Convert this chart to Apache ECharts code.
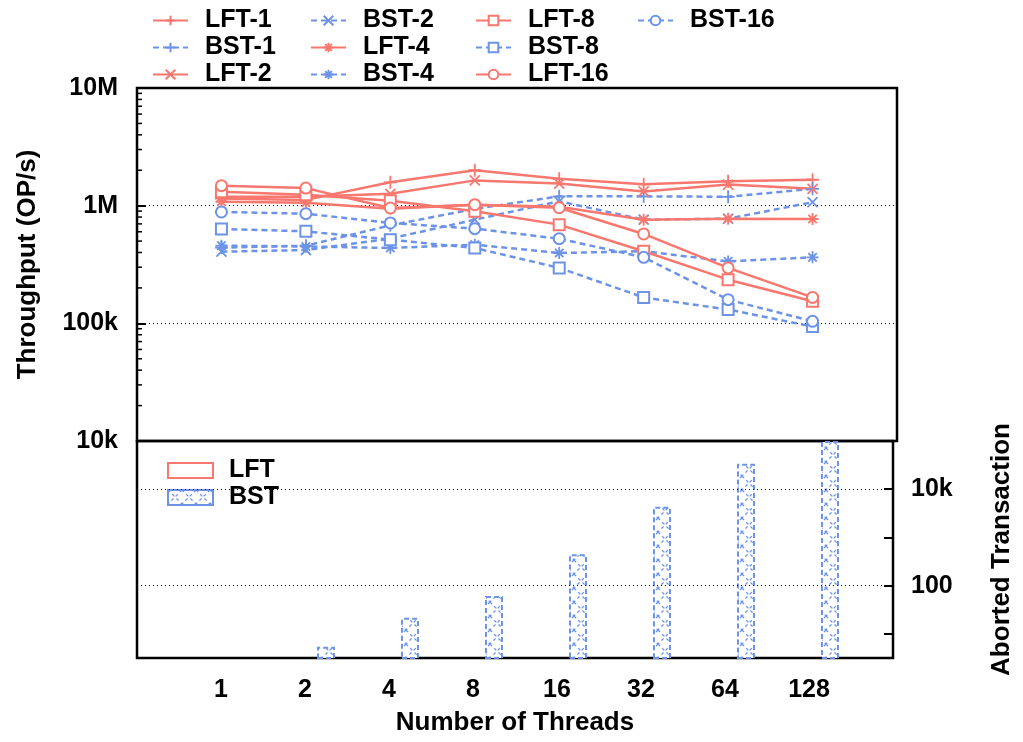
<!DOCTYPE html>
<html>
<head>
<meta charset="utf-8">
<script src="https://cdn.jsdelivr.net/npm/echarts@6/dist/echarts.min.js"></script>
<style>
  html, body { margin: 0; padding: 0; background: #fff; }
  #chart { width: 1023px; height: 742px; }
</style>
</head>
<body>
<div id="chart"></div>
<script>
const threads = [1, 2, 4, 8, 16, 32, 64, 128];

// throughput, OP/s
const lft1 = [1.15e6, 1.12e6, 1.58e6, 2.0e6, 1.69e6, 1.52e6, 1.61e6, 1.66e6];
const bst1 = [0.44e6, 0.457e6, 0.68e6, 0.94e6, 1.2e6, 1.2e6, 1.19e6, 1.39e6];
const lft2 = [1.19e6, 1.19e6, 1.26e6, 1.64e6, 1.54e6, 1.32e6, 1.51e6, 1.39e6];
const bst2 = [0.406e6, 0.42e6, 0.525e6, 0.76e6, 1.09e6, 0.76e6, 0.775e6, 1.07e6];
const lft4 = [1.08e6, 1.06e6, 0.943e6, 1.02e6, 0.98e6, 0.76e6, 0.775e6, 0.77e6];
const bst4 = [0.457e6, 0.45e6, 0.437e6, 0.466e6, 0.396e6, 0.41e6, 0.336e6, 0.364e6];
const lft8 = [1.31e6, 1.24e6, 1.10e6, 0.895e6, 0.69e6, 0.41e6, 0.235e6, 0.154e6];
const bst8 = [0.634e6, 0.605e6, 0.514e6, 0.437e6, 0.296e6, 0.166e6, 0.131e6, 0.094e6];
const lft16 = [1.48e6, 1.41e6, 0.955e6, 1.02e6, 0.96e6, 0.575e6, 0.296e6, 0.166e6];
const bst16 = [0.884e6, 0.855e6, 0.713e6, 0.638e6, 0.524e6, 0.364e6, 0.159e6, 0.104e6];

// aborted transactions
const abortLft = [0, 0, 0, 0, 0, 0, 0, 0];
const abortBst = [0, 5.4, 21.5, 61, 449, 4350, 33700, 100000];

const throughputTicks = { 1e4: "10k", 1e5: "100k", 1e6: "1M", 1e7: "10M" };
const minorSteps = [2, 3, 4, 5, 6, 7, 8, 9];
const abortTicks = { 100: "100", 10000: "10k" };

const RED = "#F8776E";
const BLUE = "#6D93E6";
const FONT = "'Liberation Sans', Arial, sans-serif";

const PLUS = "path://M0,5L10,5M5,0L5,10";
const CROSS = "path://M0,0L10,10M10,0L0,10";
const STAR = "path://M0,5L10,5M5,0L5,10M1.5,1.5L8.5,8.5M8.5,1.5L1.5,8.5";

function hatchPattern() {
  const c = document.createElement("canvas");
  c.width = 14;
  c.height = 14;
  const ctx = c.getContext("2d");
  ctx.fillStyle = "#fff";
  ctx.fillRect(0, 0, 14, 14);
  ctx.strokeStyle = BLUE;
  ctx.lineWidth = 1.3;
  ctx.setLineDash([3, 3]);
  ctx.beginPath();
  ctx.moveTo(0, 0);
  ctx.lineTo(14, 14);
  ctx.moveTo(14, 0);
  ctx.lineTo(0, 14);
  ctx.stroke();
  return c;
}

function lineSeries(name, values, isLft, symbol, size) {
  const color = isLft ? RED : BLUE;
  return {
    name,
    type: "line",
    xAxisIndex: 0,
    yAxisIndex: 0,
    data: values.map((v, i) => [i + 1, v]),
    symbol,
    symbolSize: size,
    lineStyle: { color, width: 2.5, type: isLft ? "solid" : [6, 4] },
    itemStyle: { color, borderColor: color, borderWidth: 1.8 },
    emphasis: { disabled: true }
  };
}

const bold = { fontFamily: FONT, fontWeight: "bold", color: "#000" };

function columnLegend(left, names) {
  return {
    orient: "vertical",
    left,
    top: 7,
    padding: 0,
    itemWidth: 35,
    itemHeight: 12,
    itemGap: 0,
    data: names,
    selectedMode: false,
    textStyle: Object.assign({ fontSize: 25, lineHeight: 27, padding: [0, 0, 0, 12] }, bold)
  };
}

const chart = echarts.init(document.getElementById("chart"), null, { renderer: "canvas" });

chart.setOption({
  animation: false,
  backgroundColor: "#fff",
  textStyle: { fontFamily: FONT },
  legend: [
    columnLegend(152, ["LFT-1", "BST-1", "LFT-2"]),
    columnLegend(310, ["BST-2", "LFT-4", "BST-4"]),
    columnLegend(475, ["LFT-8", "BST-8", "LFT-16"]),
    columnLegend(637, ["BST-16"]),
    {
      orient: "vertical",
      left: 167,
      top: 457,
      padding: 0,
      itemWidth: 45,
      itemHeight: 15,
      itemGap: 0,
      icon: "rect",
      data: ["LFT", "BST"],
      selectedMode: false,
      textStyle: Object.assign({ fontSize: 25, lineHeight: 27, padding: [0, 0, 0, 11] }, bold)
    }
  ],
  grid: [
    { left: 137, right: 126, top: 88, height: 353, show: true, borderColor: "#000", borderWidth: 2.5 },
    { left: 137, right: 126, top: 441, height: 217, show: true, borderColor: "#000", borderWidth: 2.5 }
  ],
  xAxis: [
    {
      gridIndex: 0, type: "value", min: 0, max: 9, interval: 1,
      axisLine: { show: false }, axisTick: { show: false },
      axisLabel: { show: false }, splitLine: { show: false }
    },
    {
      gridIndex: 1, type: "value", min: 0, max: 9, interval: 1,
      axisLine: { show: false }, axisTick: { show: false }, splitLine: { show: false },
      axisLabel: Object.assign({
        fontSize: 25, margin: 20,
        formatter: (v) => (v >= 1 && v <= threads.length ? String(threads[v - 1]) : "")
      }, bold),
      name: "Number of Threads",
      nameLocation: "middle",
      nameGap: 52,
      nameTextStyle: Object.assign({ fontSize: 26 }, bold)
    }
  ],
  yAxis: [
    {
      gridIndex: 0, type: "log", logBase: 10, min: 1e4, max: 1e7,
      axisLine: { show: false, onZero: false },
      axisTick: { inside: true, length: 9, lineStyle: { color: "#000", width: 2 } },
      splitLine: { show: true, lineStyle: { color: "#000", width: 1, type: [1, 3] } },
      axisLabel: Object.assign({
        fontSize: 25, margin: 19,
        formatter: (v) => throughputTicks[Math.round(v)] || ""
      }, bold),
      name: "Throughput (OP/s)",
      nameLocation: "middle",
      nameGap: 96,
      nameRotate: 90,
      nameTextStyle: Object.assign({ fontSize: 26 }, bold)
    },
    {
      gridIndex: 1, type: "log", logBase: 10, min: 3.1623, max: 1e5, position: "right",
      axisLine: { show: false, onZero: false },
      axisTick: { inside: true, length: 9, lineStyle: { color: "#000", width: 2 } },
      splitLine: { show: false },
      axisLabel: Object.assign({
        fontSize: 25, margin: 18,
        formatter: (v) => abortTicks[Math.round(v)] || ""
      }, bold),
      name: "Aborted Transaction",
      nameLocation: "middle",
      nameGap: 96,
      nameRotate: 90,
      nameTextStyle: Object.assign({ fontSize: 26 }, bold)
    }
  ],
  series: [
    lineSeries("LFT-1", lft1, true, PLUS, 13),
    lineSeries("BST-1", bst1, false, PLUS, 13),
    lineSeries("LFT-2", lft2, true, CROSS, 10),
    lineSeries("BST-2", bst2, false, CROSS, 10),
    lineSeries("LFT-4", lft4, true, STAR, 12),
    lineSeries("BST-4", bst4, false, STAR, 12),
    lineSeries("LFT-8", lft8, true, "emptyRect", 11),
    lineSeries("BST-8", bst8, false, "emptyRect", 11),
    lineSeries("LFT-16", lft16, true, "emptyCircle", 11),
    lineSeries("BST-16", bst16, false, "emptyCircle", 11),
    {
      name: "LFT",
      type: "bar",
      xAxisIndex: 1,
      yAxisIndex: 1,
      z: 1,
      barWidth: 18,
      barGap: "133%",
      data: abortLft.map((v, i) => [i + 1, v > 0 ? v : "-"]),
      itemStyle: { color: "#fff", borderColor: RED, borderWidth: 2 },
      markLine: {
        silent: true,
        symbol: "none",
        label: { show: false },
        lineStyle: { color: "#000", width: 1, type: [1, 3] },
        data: [{ yAxis: 100 }, { yAxis: 10000 }]
      }
    },
    {
      name: "BST",
      type: "bar",
      xAxisIndex: 1,
      yAxisIndex: 1,
      z: 3,
      barWidth: 18,
      barGap: "133%",
      data: abortBst.map((v, i) => [i + 1, v > 0 ? v : "-"]),
      itemStyle: {
        color: { image: hatchPattern(), repeat: "repeat" },
        borderColor: BLUE,
        borderWidth: 2,
        borderType: [5, 3]
      }
    }
  ]
});

// log-spaced minor ticks on the throughput axis, placed through the axis scale
function minorTickGraphics() {
  const left = chart.convertToPixel({ xAxisIndex: 0 }, 0);
  const els = [];
  [1e4, 1e5, 1e6].forEach((decade) => {
    minorSteps.forEach((m) => {
      const y = chart.convertToPixel({ yAxisIndex: 0 }, decade * m);
      els.push({
        type: "line",
        silent: true,
        shape: { x1: left, y1: y, x2: left + 5, y2: y },
        style: { stroke: "#000", lineWidth: 1.5 }
      });
    });
  });
  return els;
}

chart.setOption({ graphic: { elements: minorTickGraphics() } });

window.addEventListener("resize", () => chart.resize());
</script>
</body>
</html>
